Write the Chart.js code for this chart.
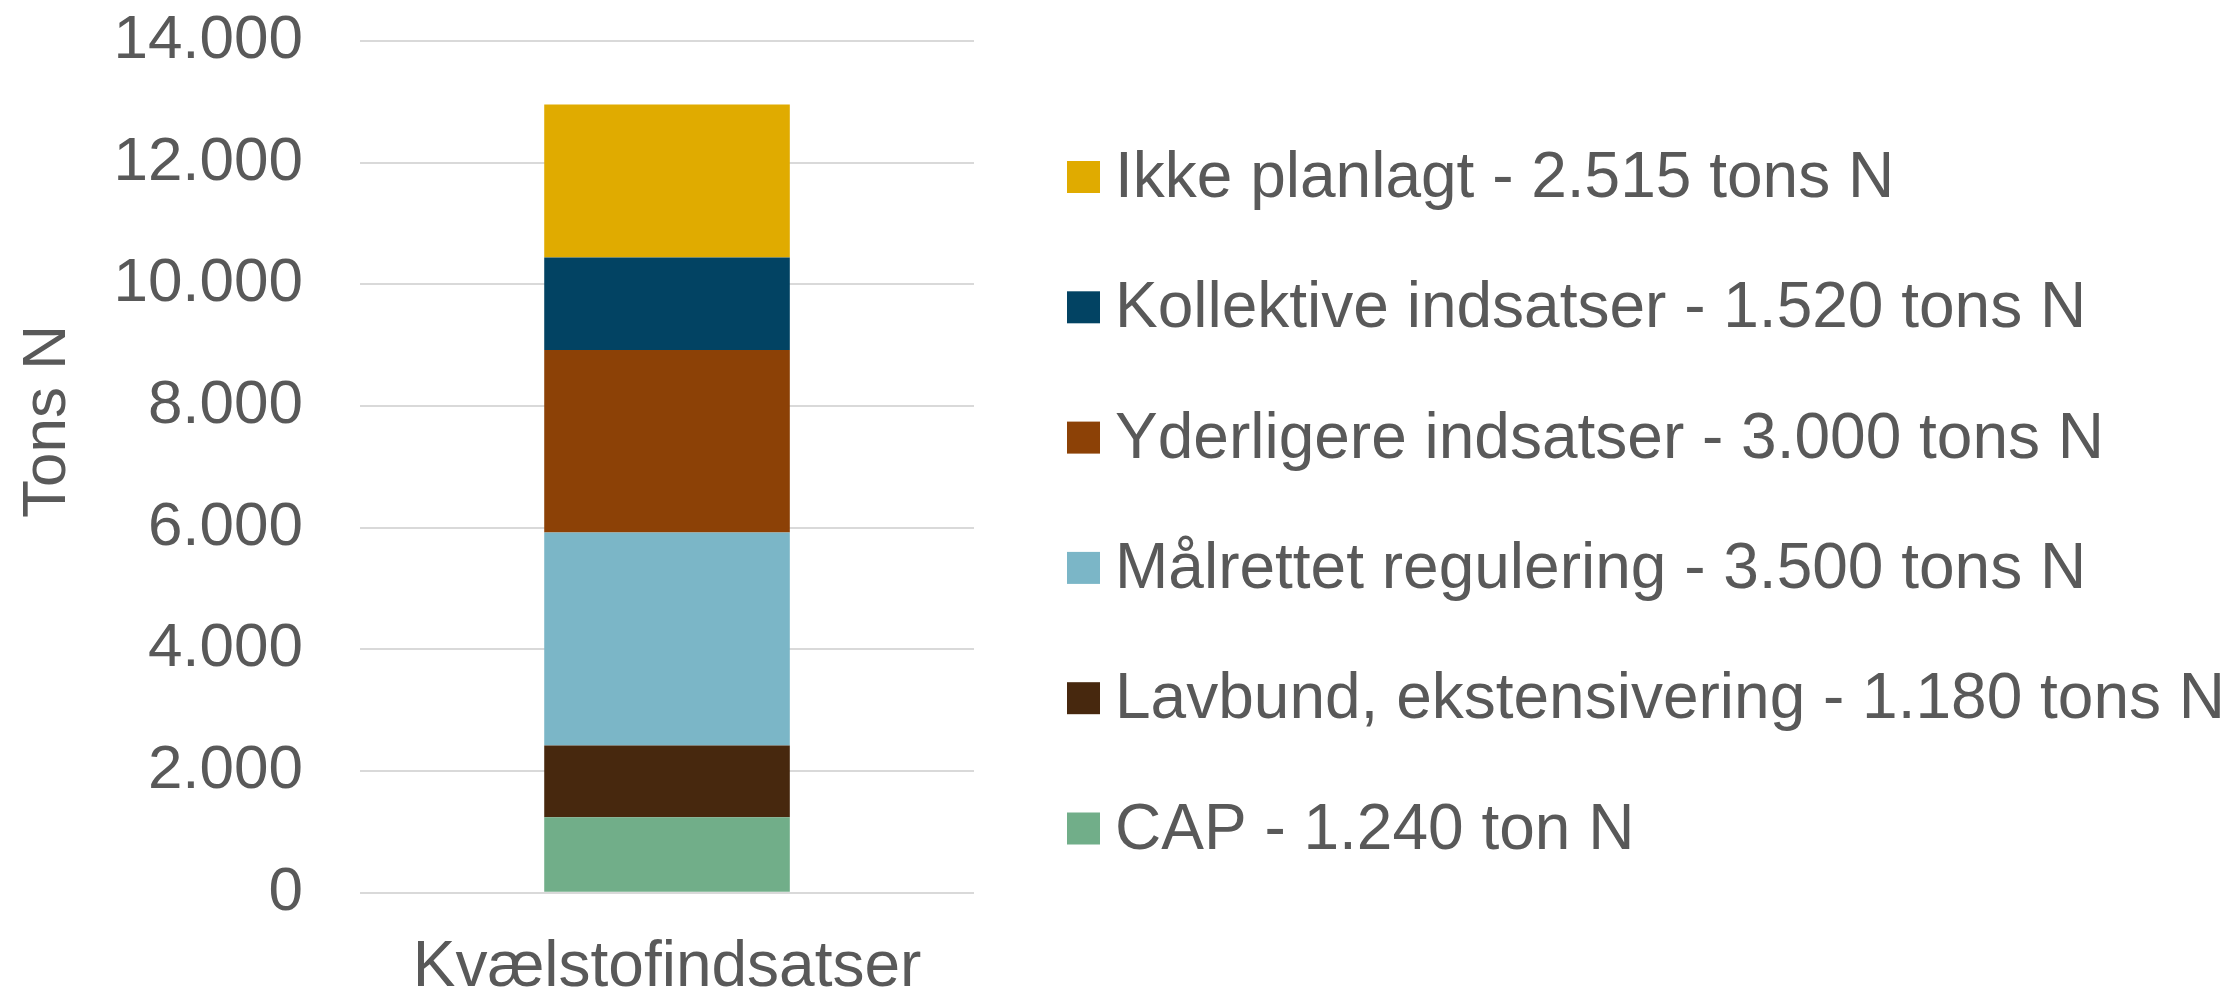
<!DOCTYPE html>
<html><head><meta charset="utf-8">
<script src="https://cdn.jsdelivr.net/npm/chart.js@4.4.0/dist/chart.umd.min.js"></script>
<style>html,body{margin:0;padding:0;background:#fff;overflow:hidden}#wrap{width:2229px;height:993px;position:relative}</style>
</head><body><div id="wrap"><canvas id="c" width="2229" height="993"></canvas></div>
<script>
// ---- data ----
const categories = ['Kvælstofindsatser'];
const seriesNames = [
  'CAP - 1.240 ton N',
  'Lavbund, ekstensivering - 1.180 tons N',
  'Målrettet regulering - 3.500 tons N',
  'Yderligere indsatser - 3.000 tons N',
  'Kollektive indsatser - 1.520 tons N',
  'Ikke planlagt - 2.515 tons N'
];
const capValues = [1240];
const lavbundValues = [1180];
const maalrettetValues = [3500];
const yderligereValues = [3000];
const kollektiveValues = [1520];
const ikkePlanlagtValues = [2515];
const seriesValues = [capValues, lavbundValues, maalrettetValues, yderligereValues, kollektiveValues, ikkePlanlagtValues];
const seriesColors = ['#71AE89', '#47280E', '#7BB6C7', '#8C4106', '#024363', '#E0AB00'];
const yTickValues = [0, 2000, 4000, 6000, 8000, 10000, 12000, 14000];
const yTickLabels = ['0', '2.000', '4.000', '6.000', '8.000', '10.000', '12.000', '14.000'];
const yAxisTitle = 'Tons N';

const FONT = "'Liberation Sans', Arial, sans-serif";
const TEXT = '#595959';

const datasets = seriesNames.map((name, i) => ({
  label: name,
  data: seriesValues[i],
  backgroundColor: seriesColors[i],
  borderWidth: 0,
  barPercentage: 0.4,
  categoryPercentage: 1.0
}));

// custom legend (reversed order, like the reference) and rotated axis title
const decorPlugin = {
  id: 'decor',
  afterDraw(chart) {
    const ctx = chart.ctx;
    ctx.save();
    ctx.fillStyle = TEXT;
    ctx.font = '62px ' + FONT;
    ctx.translate(65, 421.5);
    ctx.rotate(-Math.PI / 2);
    ctx.textAlign = 'center';
    ctx.textBaseline = 'alphabetic';
    ctx.fillText(yAxisTitle, 0, 0);
    ctx.restore();

    ctx.save();
    const ds = chart.data.datasets.slice().reverse();
    const startY = 177, step = 130.3;
    ctx.font = '64px ' + FONT;
    ctx.textAlign = 'left';
    ctx.textBaseline = 'alphabetic';
    ds.forEach((d, i) => {
      const cy = startY + i * step;
      ctx.fillStyle = d.backgroundColor;
      ctx.fillRect(1067, cy - 16, 33, 32);
      ctx.fillStyle = TEXT;
      ctx.fillText(d.label, 1115, cy + 20);
    });
    ctx.restore();
  }
};

new Chart(document.getElementById('c'), {
  type: 'bar',
  data: { labels: categories, datasets },
  options: {
    responsive: false,
    animation: false,
    devicePixelRatio: 1,
    layout: { padding: { left: 111.4, right: 1255, top: 41, bottom: 0 } },
    plugins: { legend: { display: false }, tooltip: { enabled: false }, title: { display: false } },
    scales: {
      x: {
        stacked: true,
        grid: { display: false, drawTicks: true, tickLength: 51 },
        border: { display: false },
        ticks: { color: TEXT, padding: 0, font: { family: FONT, size: 64, lineHeight: 0.77 } }
      },
      y: {
        stacked: true,
        min: 0,
        max: 14000,
        afterBuildTicks(scale) { scale.ticks = yTickValues.map(v => ({ value: v })); },
        grid: { color: '#d9d9d9', lineWidth: 2, drawTicks: true, tickLength: 55, tickColor: 'rgba(0,0,0,0)' },
        border: { display: false },
        ticks: {
          color: TEXT,
          padding: 2,
          font: { family: FONT, size: 62 },
          callback: (v) => { const k = yTickValues.indexOf(v); return k >= 0 ? yTickLabels[k] : ''; }
        }
      }
    }
  },
  plugins: [decorPlugin]
});
</script>
</body></html>
